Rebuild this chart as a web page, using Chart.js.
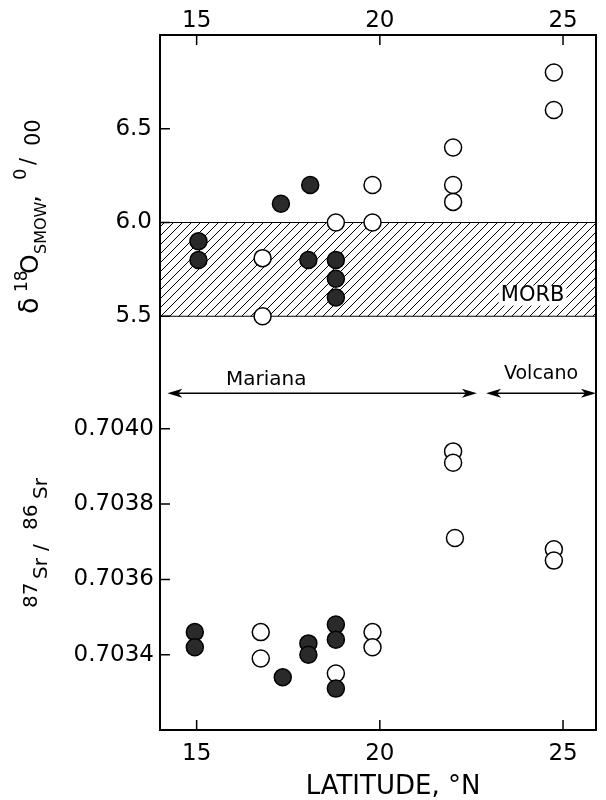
<!DOCTYPE html>
<html>
<head>
<meta charset="utf-8">
<script src="https://cdn.jsdelivr.net/npm/chart.js@4.4.1/dist/chart.umd.min.js"></script>
<style>
  html, body { margin: 0; padding: 0; background: #fff; }
  canvas { display: block; }
</style>
</head>
<body>
<canvas id="chart" width="606" height="800"></canvas>
<script>
// axes
var latRange = [14, 25.9];
var latTicks = [15, 20, 25];
var o18Range = [5.0, 7.0];
var o18Ticks = [5.5, 6.0, 6.5];
var srRange = [0.7032, 0.70405];
var srTicks = [0.7034, 0.7036, 0.7038, 0.7040];
var morbRange = [5.5, 6.0];

// delta 18O, filled and open symbols
var o18FilledLat = [15.05, 15.05, 17.3, 18.1, 18.05, 18.8, 18.8, 18.8];
var o18FilledVal = [5.90, 5.80, 6.10, 6.20, 5.80, 5.80, 5.70, 5.60];
var o18OpenLat = [16.8, 16.8, 18.8, 19.8, 19.8, 22.0, 22.0, 22.0, 24.75, 24.75];
var o18OpenVal = [5.81, 5.50, 6.00, 6.20, 6.00, 6.40, 6.20, 6.11, 6.80, 6.60];

// 87Sr/86Sr, filled and open symbols
var srFilledLat = [14.95, 14.95, 17.35, 18.05, 18.05, 18.8, 18.8, 18.8];
var srFilledVal = [0.70346, 0.70342, 0.70334, 0.70343, 0.70340, 0.70348, 0.70344, 0.70331];
var srOpenLat = [16.75, 16.75, 18.8, 19.8, 19.8, 22.0, 22.0, 22.05, 24.75, 24.75];
var srOpenVal = [0.70346, 0.70339, 0.70335, 0.70346, 0.70342, 0.70394, 0.70391, 0.70371, 0.70368, 0.70365];

// arc segments
var regionNames = ['Mariana', 'Volcano'];
var regionFrom = [14.2, 22.9];
var regionTo = [22.65, 25.9];
var regionLabelLat = [16.9, 24.4];

function pts(xs, ys) {
  return xs.map(function (x, i) { return { x: x, y: ys[i] }; });
}

var c = document.getElementById("chart");
var ctx = c.getContext("2d");

var hatch = document.createElement("canvas");
hatch.width = 9; hatch.height = 9;
var hc = hatch.getContext("2d");
hc.strokeStyle = "#000";
hc.lineWidth = 1;
hc.beginPath();
hc.moveTo(0, 9); hc.lineTo(9, 0);
hc.moveTo(-1, 1); hc.lineTo(1, -1);
hc.moveTo(8, 10); hc.lineTo(10, 8);
hc.stroke();
var hatchPattern = ctx.createPattern(hatch, "repeat");

var FONT = "'DejaVu Sans', sans-serif";

function drawRotated(g, x, yBottom, parts) {
  g.save();
  g.translate(x, yBottom);
  g.rotate(-Math.PI / 2);
  g.textAlign = "left";
  g.textBaseline = "alphabetic";
  g.fillStyle = "#000";
  parts.forEach(function (p) {
    g.font = p.size + "px " + FONT;
    g.fillText(p.text, p.at, p.dy);
  });
  g.restore();
}

var extras = {
  id: "extras",
  afterDatasetsDraw: function (chart) {
    var g = chart.ctx;
    var a = chart.chartArea;
    var xs = chart.scales.x;
    var yO = chart.scales.yO;
    g.save();

    // frame
    g.strokeStyle = "#000";
    g.lineWidth = 2;
    g.strokeRect(a.left, a.top, a.right - a.left, a.bottom - a.top);

    // inward tick marks
    g.lineWidth = 1.5;
    g.beginPath();
    ["x", "x2"].forEach(function (id) {
      var s = chart.scales[id];
      s.ticks.forEach(function (t) {
        var px = s.getPixelForValue(t.value);
        var y0 = id === "x" ? a.bottom : a.top;
        var d = id === "x" ? -10 : 10;
        g.moveTo(px, y0); g.lineTo(px, y0 + d);
      });
    });
    ["yO", "ySr"].forEach(function (id) {
      var s = chart.scales[id];
      s.ticks.forEach(function (t) {
        var py = s.getPixelForValue(t.value);
        g.moveTo(a.left, py); g.lineTo(a.left + 10, py);
      });
    });
    g.stroke();

    // MORB label
    g.font = "21px " + FONT;
    g.textAlign = "center";
    g.textBaseline = "middle";
    var mx = xs.getPixelForValue(24.17), my = yO.getPixelForValue(5.61);
    var mw = g.measureText("MORB").width;
    g.fillStyle = "#fff";
    g.fillRect(mx - mw / 2 - 2, my - 10, mw + 4, 20);
    g.fillStyle = "#000";
    g.fillText("MORB", mx, my);

    // region arrows
    var ay = yO.getPixelForValue(5.09);
    g.lineWidth = 1.5;
    regionNames.forEach(function (name, i) {
      var x1 = xs.getPixelForValue(regionFrom[i]);
      var x2 = xs.getPixelForValue(regionTo[i]);
      g.beginPath();
      g.moveTo(x1 + 4, ay); g.lineTo(x2 - 4, ay);
      g.stroke();
      [[x1, 1], [x2, -1]].forEach(function (e) {
        g.beginPath();
        g.moveTo(e[0], ay);
        g.lineTo(e[0] + e[1] * 15, ay - 4.5);
        g.lineTo(e[0] + e[1] * 11, ay);
        g.lineTo(e[0] + e[1] * 15, ay + 4.5);
        g.closePath();
        g.fill();
      });
      g.font = (i === 0 ? "20px " : "19px ") + FONT;
      g.textAlign = "center";
      g.textBaseline = "middle";
      g.fillText(name, xs.getPixelForValue(regionLabelLat[i]), yO.getPixelForValue(i === 0 ? 5.16 : 5.19));
    });

    // x title
    g.font = "26px " + FONT;
    g.textAlign = "center";
    g.textBaseline = "middle";
    g.fillText("LATITUDE, \u00B0N", (a.left + a.right) / 2 + 15, 787);

    // y titles
    drawRotated(g, 38, 314, [
      { text: "\u03B4", size: 27, at: 0, dy: 0 },
      { text: "18", size: 17, at: 22, dy: -11 },
      { text: "O", size: 25, at: 40, dy: 0 },
      { text: "SMOW", size: 16, at: 60, dy: 8 },
      { text: ",", size: 25, at: 111, dy: 0 },
      { text: "0", size: 18, at: 134, dy: -12 },
      { text: "/", size: 21, at: 149, dy: -3 },
      { text: "00", size: 21, at: 168, dy: 2 }
    ]);
    drawRotated(g, 47, 608, [
      { text: "87", size: 20, at: 0, dy: -10 },
      { text: "Sr", size: 20, at: 29, dy: 0 },
      { text: "/", size: 20, at: 57, dy: 0 },
      { text: "86", size: 20, at: 78, dy: -10 },
      { text: "Sr", size: 20, at: 109, dy: 0 }
    ]);
    g.restore();
  }
};

function tickFont() { return { family: "DejaVu Sans", size: 23 }; }
var noGrid = { display: false, drawTicks: false };

var data = {
  datasets: [
    { label: "d18O closed", data: pts(o18FilledLat, o18FilledVal), xAxisID: "x", yAxisID: "yO",
      backgroundColor: "#2a2a2a", borderColor: "#000", borderWidth: 1.5, pointRadius: 8.5 },
    { label: "d18O open", data: pts(o18OpenLat, o18OpenVal), xAxisID: "x", yAxisID: "yO",
      backgroundColor: "#fff", borderColor: "#000", borderWidth: 1.5, pointRadius: 8.5 },
    { label: "Sr closed", data: pts(srFilledLat, srFilledVal), xAxisID: "x", yAxisID: "ySr",
      backgroundColor: "#2a2a2a", borderColor: "#000", borderWidth: 1.5, pointRadius: 8.5 },
    { label: "Sr open", data: pts(srOpenLat, srOpenVal), xAxisID: "x", yAxisID: "ySr",
      backgroundColor: "#fff", borderColor: "#000", borderWidth: 1.5, pointRadius: 8.5 },
    { type: "line", label: "MORB top", data: pts(latRange, [morbRange[1], morbRange[1]]), xAxisID: "x", yAxisID: "yO",
      borderColor: "#000", borderWidth: 1.2, pointRadius: 0, fill: "+1", backgroundColor: hatchPattern },
    { type: "line", label: "MORB bottom", data: pts(latRange, [morbRange[0], morbRange[0]]), xAxisID: "x", yAxisID: "yO",
      borderColor: "#000", borderWidth: 1.2, pointRadius: 0, fill: false }
  ]
};

var options = {
  responsive: false,
  animation: false,
  layout: { padding: { left: 60, right: 3, top: 0, bottom: 0 } },
  plugins: { legend: { display: false }, tooltip: { enabled: false } },
  scales: {
    x: {
      type: "linear", position: "bottom", min: latRange[0], max: latRange[1],
      afterBuildTicks: function (s) { s.ticks = latTicks.map(function (v) { return { value: v }; }); },
      afterFit: function (s) { s.height = 70; },
      ticks: { color: "#000", font: tickFont(), padding: 10, maxRotation: 0 },
      grid: noGrid, border: { display: false }
    },
    x2: {
      type: "linear", position: "top", min: latRange[0], max: latRange[1],
      afterBuildTicks: function (s) { s.ticks = latTicks.map(function (v) { return { value: v }; }); },
      afterFit: function (s) { s.height = 35; },
      ticks: { color: "#000", font: tickFont(), padding: 0, maxRotation: 0 },
      grid: noGrid, border: { display: false }
    },
    ySr: {
      type: "linear", position: "left", stack: "lat", stackWeight: 320, min: srRange[0], max: srRange[1],
      afterBuildTicks: function (s) { s.ticks = srTicks.map(function (v) { return { value: v }; }); },
      afterFit: function (s) { s.width = 100; },
      ticks: { color: "#000", font: tickFont(), padding: 6, callback: function (v) { return Number(v).toFixed(4); } },
      grid: noGrid, border: { display: false }
    },
    yO: {
      type: "linear", position: "left", stack: "lat", stackWeight: 375, min: o18Range[0], max: o18Range[1],
      afterBuildTicks: function (s) { s.ticks = o18Ticks.map(function (v) { return { value: v }; }); },
      afterFit: function (s) { s.width = 100; },
      ticks: { color: "#000", font: tickFont(), padding: 8, callback: function (v) { return Number(v).toFixed(1); } },
      grid: noGrid, border: { display: false }
    }
  }
};

var chart = new Chart(c, { type: "scatter", data: data, options: options, plugins: [extras] });
</script>
</body>
</html>
